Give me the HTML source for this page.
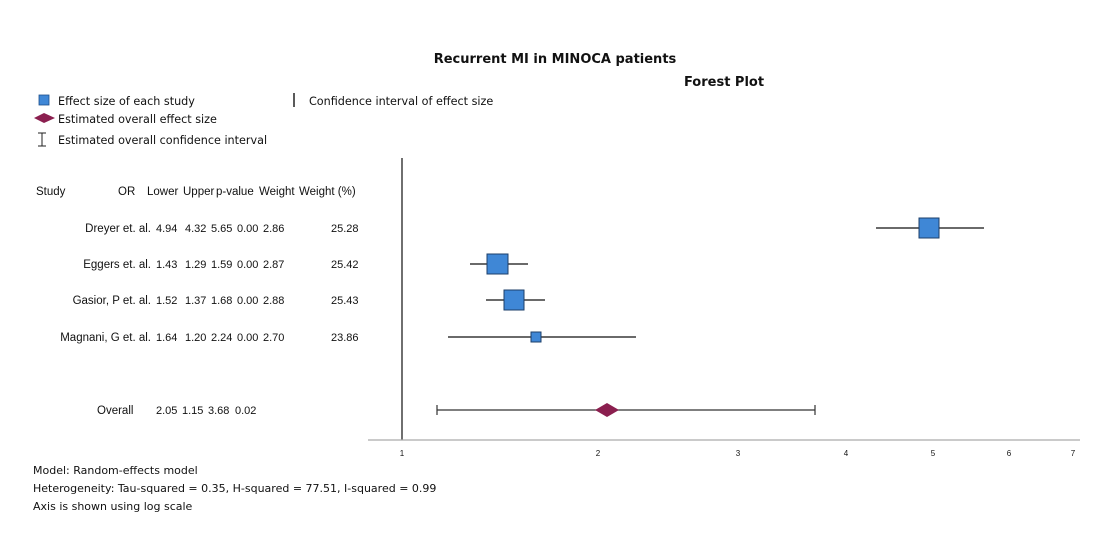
<!DOCTYPE html>
<html><head><meta charset="utf-8"><style>
html,body{margin:0;padding:0;background:#fff}
svg{display:block}
text{font-family:"Liberation Sans",sans-serif;fill:#111}
.t{font-size:11.5px}
.v{font-size:11px}
.l{font-size:11.2px;font-family:"DejaVu Sans",sans-serif}
.f{font-size:11px;font-family:"DejaVu Sans",sans-serif}
.h{font-family:"DejaVu Sans",sans-serif;font-weight:bold;font-size:13px}
</style></head><body>
<svg width="1114" height="543" viewBox="0 0 1114 543">
<text class="h" x="555" y="63" text-anchor="middle">Recurrent MI in MINOCA patients</text>
<text class="h" x="724" y="86" text-anchor="middle">Forest Plot</text>
<!-- legend -->
<rect x="39" y="95" width="10" height="10" fill="#3f87d6" stroke="#1d4f8a" stroke-width="0.8"/>
<text class="l" x="58" y="105">Effect size of each study</text>
<line x1="294" y1="93" x2="294" y2="107" stroke="#222" stroke-width="1.5"/>
<text class="l" x="309" y="105">Confidence interval of effect size</text>
<polygon points="34,118 44,113 55,118 44,123" fill="#8b1f4f"/>
<text class="l" x="58" y="123">Estimated overall effect size</text>
<path d="M38,133 H46 M42,133 V146 M38,146 H46" stroke="#222" stroke-width="1" fill="none"/>
<text class="l" x="58" y="144">Estimated overall confidence interval</text>
<!-- table -->
<g class="t">
<text x="36" y="195">Study</text>
<text x="118" y="195">OR</text>
<text x="147" y="195">Lower</text>
<text x="183" y="195">Upper</text>
<text x="216" y="195">p-value</text>
<text x="259" y="195">Weight</text>
<text x="299" y="195">Weight (%)</text>
</g>
<g class="t">
<text x="151" y="232" text-anchor="end">Dreyer et. al.</text>
<text x="151" y="268" text-anchor="end">Eggers et. al.</text>
<text x="151" y="304" text-anchor="end">Gasior, P et. al.</text>
<text x="151" y="341" text-anchor="end">Magnani, G et. al.</text>
<text x="97" y="414">Overall</text>
</g>
<g class="v">
<text x="156" y="232">4.94</text><text x="185" y="232">4.32</text><text x="211" y="232">5.65</text><text x="237" y="232">0.00</text><text x="263" y="232">2.86</text><text x="331" y="232">25.28</text>
<text x="156" y="268">1.43</text><text x="185" y="268">1.29</text><text x="211" y="268">1.59</text><text x="237" y="268">0.00</text><text x="263" y="268">2.87</text><text x="331" y="268">25.42</text>
<text x="156" y="304">1.52</text><text x="185" y="304">1.37</text><text x="211" y="304">1.68</text><text x="237" y="304">0.00</text><text x="263" y="304">2.88</text><text x="331" y="304">25.43</text>
<text x="156" y="341">1.64</text><text x="185" y="341">1.20</text><text x="211" y="341">2.24</text><text x="237" y="341">0.00</text><text x="263" y="341">2.70</text><text x="331" y="341">23.86</text>
<text x="156" y="414">2.05</text><text x="182" y="414">1.15</text><text x="208" y="414">3.68</text><text x="235" y="414">0.02</text>
</g>
<!-- axes -->
<line x1="402" y1="158" x2="402" y2="440" stroke="#222" stroke-width="1.3"/>
<line x1="368" y1="440" x2="1080" y2="440" stroke="#aaa" stroke-width="1.3"/>
<g font-size="8" text-anchor="middle">
<text x="402" y="456">1</text><text x="598" y="456">2</text><text x="738" y="456">3</text><text x="846" y="456">4</text><text x="933" y="456">5</text><text x="1009" y="456">6</text><text x="1073" y="456">7</text>
</g>
<!-- series -->
<g stroke="#111" stroke-width="1.3">
<line x1="876" y1="228" x2="984" y2="228"/>
<line x1="470" y1="264" x2="528" y2="264"/>
<line x1="486" y1="300" x2="545" y2="300"/>
<line x1="448" y1="337" x2="636" y2="337"/>
</g>
<g fill="#3f87d6" stroke="#1d3f6a" stroke-width="1">
<rect x="919" y="218" width="20" height="20"/>
<rect x="487" y="254" width="21" height="20"/>
<rect x="504" y="290" width="20" height="20"/>
<rect x="531" y="332" width="10" height="10"/>
</g>
<path d="M437,410 H815 M437,405 V415 M815,405 V415" stroke="#333" stroke-width="1.2" fill="none"/>
<polygon points="595,410 607,403 619,410 607,417" fill="#8b1f4f"/>
<!-- footnotes -->
<text class="f" x="33" y="474">Model: Random-effects model</text>
<text class="f" x="33" y="492">Heterogeneity: Tau-squared = 0.35, H-squared = 77.51, I-squared = 0.99</text>
<text class="f" x="33" y="510">Axis is shown using log scale</text>
</svg>
</body></html>
